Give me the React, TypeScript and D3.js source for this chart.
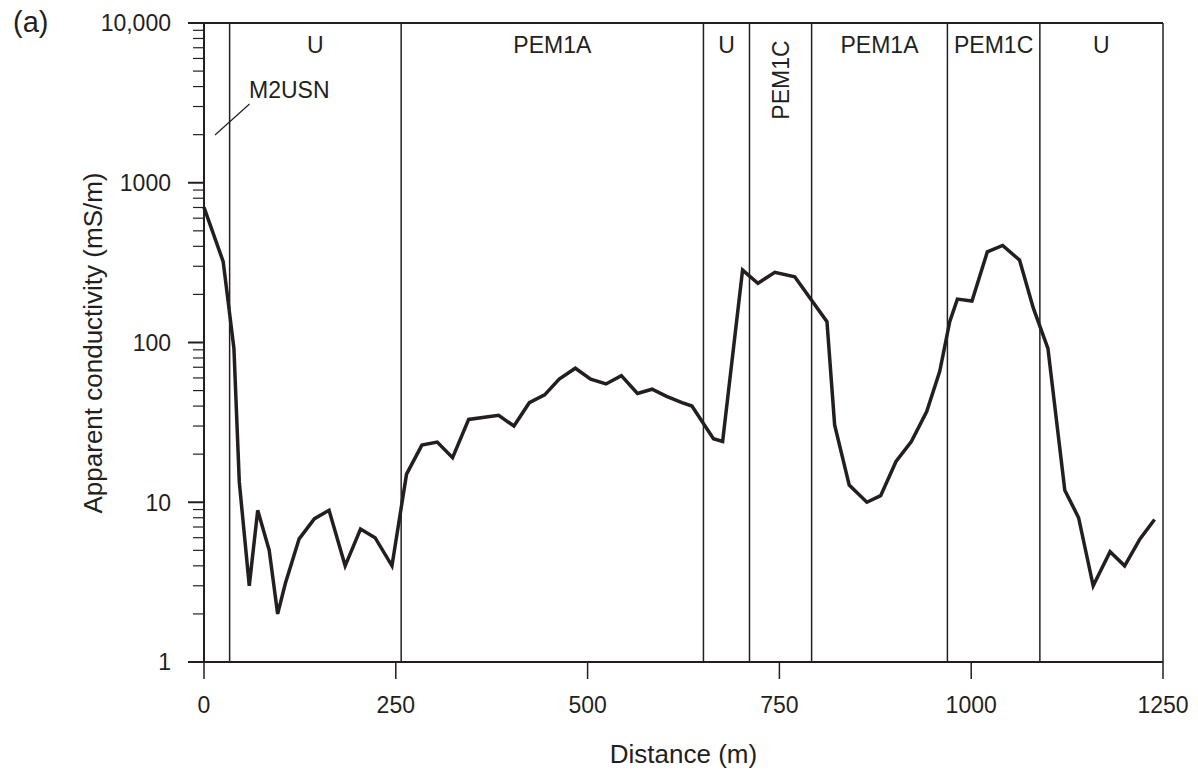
import React from "react";
import * as d3 from "d3";

const distance = [0, 25, 39, 46, 59, 70, 85, 96, 106, 124, 144, 163, 184, 204, 223, 245, 264, 284, 304, 324, 345, 384, 404, 424, 444, 463, 484, 504, 524, 544, 565, 584, 603, 623, 636, 664, 676, 702, 722, 744, 770, 812, 822, 841, 864, 882, 902, 922, 942, 959, 972, 982, 1001, 1021, 1041, 1063, 1081, 1100, 1122, 1140, 1159, 1181, 1200, 1220, 1239];
const conductivity = [702, 321, 92, 13.4, 3.0, 8.9, 5.0, 2.0, 3.1, 5.9, 7.9, 8.9, 4.0, 6.8, 6.0, 4.0, 15, 22.8, 23.8, 19, 33, 35, 30, 42, 47, 59, 69, 59, 55, 62, 48, 51, 46, 42, 40, 25, 24, 284, 235, 275, 258, 135, 30.5, 12.8, 10, 11, 18, 24, 37, 66, 135, 187, 182, 369, 405, 328, 164, 92, 11.9, 8.0, 3.0, 4.9, 4.0, 5.9, 7.8];

const zoneBounds = [33.4, 257, 651, 711, 792, 969, 1089.5];
const zoneLabels = ["U", "PEM1A", "U", "PEM1C", "PEM1A", "PEM1C", "U"];
const zoneStarts = [33.4, 257, 651, 711, 792, 969, 1089.5];
const zoneEnds = [257, 651, 711, 792, 969, 1089.5, 1250];
const zoneRotated = [false, false, false, true, false, false, false];

const xTicks = [0, 250, 500, 750, 1000, 1250];
const yMajor = [1, 10, 100, 1000, 10000];
const yMajorLabels = ["1", "10", "100", "1000", "10,000"];

const FONT = "'Liberation Sans', Arial, Helvetica, sans-serif";
const INK = "#231f20";

export default function App() {
  const x = d3.scaleLinear().domain([0, 1250]).range([204, 1163]);
  const y = d3.scaleLog().domain([1, 10000]).range([662, 23]);

  const yMinor: number[] = [];
  for (let dec = 1; dec < 10000; dec *= 10) {
    for (let k = 2; k <= 9; k++) yMinor.push(dec * k);
  }

  const pts: [number, number][] = distance.map((d, i) => [d, conductivity[i]]);
  const line = d3
    .line<[number, number]>()
    .x((p) => x(p[0]))
    .y((p) => y(p[1]));

  return (
    <svg
      width={1198}
      height={774}
      style={{ position: "absolute", left: 0, top: 0, background: "#fff" }}
      fontFamily={FONT}
    >
      <rect x={0} y={0} width={1198} height={774} fill="#fff" />
      {/* zone boundaries */}
      {zoneBounds.map((b, i) => (
        <line key={"zb" + i} x1={x(b)} x2={x(b)} y1={y(10000)} y2={y(1)} stroke={INK} strokeWidth={1.5} />
      ))}
      {/* frame */}
      <line x1={x(0)} x2={x(1250)} y1={y(10000)} y2={y(10000)} stroke={INK} strokeWidth={2} />
      <line x1={x(1250)} x2={x(1250)} y1={y(10000)} y2={y(1)} stroke={INK} strokeWidth={1.5} />
      <line x1={x(0)} x2={x(1250)} y1={y(1)} y2={y(1)} stroke={INK} strokeWidth={2.2} />
      <line x1={x(0)} x2={x(0)} y1={y(10000)} y2={y(1)} stroke={INK} strokeWidth={2} />

      {/* y ticks */}
      {yMajor.map((v, i) => (
        <g key={"ym" + i}>
          <line x1={x(0) - 16} x2={x(0)} y1={y(v)} y2={y(v)} stroke={INK} strokeWidth={2} />
          <text x={171} y={y(v)} dy="0.36em" textAnchor="end" fontSize={23} fill={INK}>
            {yMajorLabels[i]}
          </text>
        </g>
      ))}
      {yMinor.map((v, i) => (
        <line key={"yn" + i} x1={x(0) - 11} x2={x(0)} y1={y(v)} y2={y(v)} stroke={INK} strokeWidth={1.2} />
      ))}

      {/* x ticks */}
      {xTicks.map((t, i) => (
        <g key={"xt" + i}>
          <line x1={x(t)} x2={x(t)} y1={y(1)} y2={y(1) + 17} stroke={INK} strokeWidth={1.5} />
          <text x={x(t)} y={713} textAnchor="middle" fontSize={23} fill={INK}>
            {t}
          </text>
        </g>
      ))}

      {/* zone labels */}
      {zoneLabels.map((lab, i) => {
        const cx = (x(zoneStarts[i]) + x(zoneEnds[i])) / 2;
        if (zoneRotated[i]) {
          return (
            <text key={"zl" + i} transform={`translate(${cx + 8},80) rotate(-90)`} textAnchor="middle" fontSize={23} fill={INK}>
              {lab}
            </text>
          );
        }
        return (
          <text key={"zl" + i} x={cx} y={53} textAnchor="middle" fontSize={23} fill={INK}>
            {lab}
          </text>
        );
      })}

      {/* M2USN annotation */}
      <text x={249} y={98} fontSize={23} fill={INK}>M2USN</text>
      <line x1={215} y1={135} x2={249.5} y2={104} stroke={INK} strokeWidth={1.2} />

      {/* data line */}
      <path d={line(pts) || ""} fill="none" stroke={INK} strokeWidth={3.5} strokeLinejoin="miter" />

      {/* titles */}
      <text x={13} y={32} fontSize={29} fill={INK}>(a)</text>
      <text transform={`translate(102,343) rotate(-90)`} textAnchor="middle" fontSize={26} fill={INK}>
        Apparent conductivity (mS/m)
      </text>
      <text x={683.5} y={763} textAnchor="middle" fontSize={26} fill={INK}>
        Distance (m)
      </text>
    </svg>
  );
}
